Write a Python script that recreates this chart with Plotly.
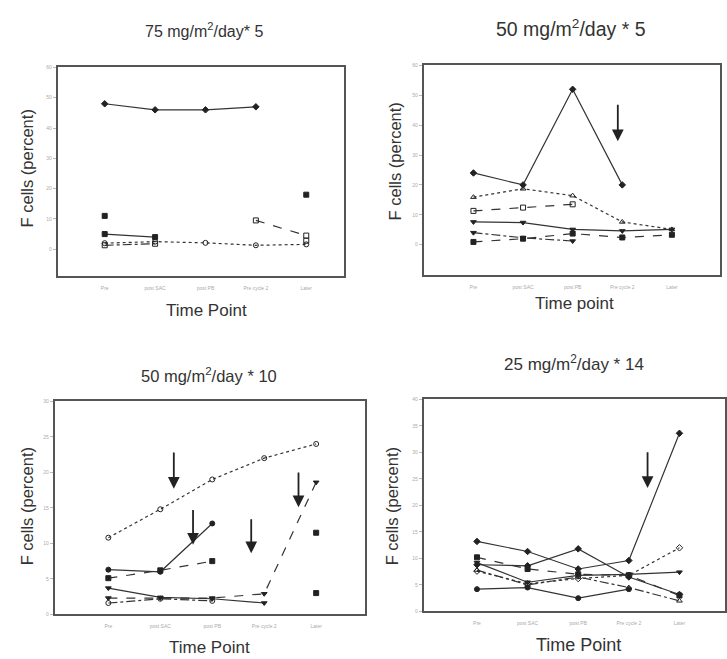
import plotly.graph_objects as go

# ---------------- data ----------------
time_points = ["Pre", "post SAC", "post PB", "Pre cycle 2", "Later"]

panel_titles = [
    "75 mg/m<sup>2</sup>/day* 5",
    "50 mg/m<sup>2</sup>/day * 5",
    "50 mg/m<sup>2</sup>/day * 10",
    "25 mg/m<sup>2</sup>/day * 14",
]
x_titles = ["Time Point", "Time point", "Time Point", "Time Point"]
y_title = "F cells (percent)"

# Panel 1: 75 mg/m2/day * 5
p1_a = [48, 46, 46, 47, None]
p1_b = [11, None, None, None, 18]
p1_c = [None, None, None, 9.5, 4.5]
p1_d = [5, 4, None, None, None]
p1_e = [2.0, 2.5, 2.1, 1.3, 1.6]
p1_f = [1.3, 1.8, None, None, 2.8]

# Panel 2: 50 mg/m2/day * 5
p2_a = [24, 20, 52, 20, None]
p2_b = [15.9, 18.7, 16.4, 7.6, 5.1]
p2_c = [11.3, 12.4, 13.5, None, None]
p2_d = [7.6, 7.4, 5.1, 4.6, 5.1]
p2_e = [0.9, 2.0, 3.7, 2.4, 3.3]
p2_f = [4.0, 2.3, 1.2, None, None]

# Panel 3: 50 mg/m2/day * 10
p3_a = [10.8, 14.8, 19.0, 22.0, 24.0]
p3_b = [6.3, 6.0, 12.8, None, None]
p3_c = [5.1, 6.2, 7.5, None, None]
p3_d = [3.7, 2.4, 2.2, 1.6, None]
p3_e = [2.3, 2.3, 2.3, 2.9, 18.6]
p3_f = [1.6, 2.2, 1.9, None, None]
p3_g = [None, None, None, None, 11.5]
p3_h = [None, None, None, None, 3.0]

# Panel 4: 25 mg/m2/day * 14
p4_a = [13.2, 11.3, 8.0, 9.6, 33.6]
p4_b = [8.8, 8.6, 11.8, 6.5, 3.2]
p4_c = [10.2, 8.0, 7.0, 6.8, 3.0]
p4_d = [7.6, 5.2, 6.2, 6.8, 12.0]
p4_e = [4.2, 4.5, 2.5, 4.2, None]
p4_f = [9.2, 5.5, 6.8, 7.0, 7.4]
p4_g = [7.8, 5.0, 6.5, 4.5, 2.0]

y_ranges = [[-9, 60], [-10, 60], [0, 30], [0, 40]]
y_ticks = [list(range(0, 61, 10)), list(range(0, 61, 10)),
           list(range(0, 31, 5)), list(range(0, 41, 5))]
x_ranges = [[-0.93, 4.75], [-1.0, 4.97], [-1.03, 4.94], [-1.05, 4.9]]

# arrows: (x index, tip value, tail value)
arrows = {
    2: [(2.91, 34.6, 47.3)],
    3: [(1.26, 17.7, 23.0), (1.63, 9.8, 14.9), (2.75, 8.6, 13.6), (3.66, 15.1, 20.2)],
    4: [(3.37, 23.3, 30.3)],
}

# ---------------- styles ----------------
LC = "#333333"
series = {
    1: [(p1_a, "solid", "diamond"), (p1_b, "solid", "square"),
        (p1_c, "dash", "square-open"), (p1_d, "solid", "square"),
        (p1_e, "dot", "circle-open"), (p1_f, "dashdot", "square-open")],
    2: [(p2_a, "solid", "diamond"), (p2_b, "dot", "triangle-up-open"),
        (p2_c, "dash", "square-open"), (p2_d, "solid", "triangle-down"),
        (p2_e, "dash", "square"), (p2_f, "dashdot", "triangle-down")],
    3: [(p3_a, "dot", "circle-open"), (p3_b, "solid", "circle"),
        (p3_c, "dash", "square"), (p3_d, "solid", "triangle-down"),
        (p3_e, "dash", "triangle-down"), (p3_f, "dashdot", "circle-open"),
        (p3_g, "solid", "square"), (p3_h, "solid", "square")],
    4: [(p4_a, "solid", "diamond"), (p4_b, "solid", "diamond"),
        (p4_c, "dash", "square"), (p4_d, "dot", "diamond-open"),
        (p4_e, "solid", "circle"), (p4_f, "solid", "triangle-down"),
        (p4_g, "dashdot", "triangle-up-open")],
}

domains = {
    1: ([58 / 727, 345 / 727], [1 - 276 / 659, 1 - 65 / 659]),
    2: ([425 / 727, 722 / 727], [1 - 274 / 659, 1 - 63 / 659]),
    3: ([55 / 727, 366 / 727], [1 - 617 / 659, 1 - 402 / 659]),
    4: ([425 / 727, 1.0], [1 - 614 / 659, 1 - 400 / 659]),
}

title_pos = {1: (205, 27, 16), 2: (573, 25, 19.5), 3: (210, 375, 16.5), 4: (576, 363, 17)}
xtitle_pos = {1: (207, 310, 17), 2: (576, 303, 17), 3: (210, 650, 17), 4: (580, 648, 18)}
ytitle_pos = {1: (28, 167), 2: (396, 160), 3: (27, 508), 4: (393, 508)}
ytitle_size = 16.5

fig = go.Figure()
annotations = []
layout = {}

for p in range(1, 5):
    xa = "x" if p == 1 else f"x{p}"
    ya = "y" if p == 1 else f"y{p}"
    for vals, dash, sym in series[p]:
        fig.add_trace(go.Scatter(
            x=time_points, y=vals, xaxis=xa, yaxis=ya,
            mode="lines+markers",
            line=dict(color=LC, width=1.2, dash=dash),
            marker=dict(symbol=sym, size=5, color="#222222",
                        line=dict(color="#222222", width=1)),
            connectgaps=False, showlegend=False, hoverinfo="skip",
        ))
    xd, yd = domains[p]
    xkey = "xaxis" if p == 1 else f"xaxis{p}"
    ykey = "yaxis" if p == 1 else f"yaxis{p}"
    layout[xkey] = dict(
        domain=xd, anchor=ya, type="category", categoryorder="array",
        categoryarray=time_points, range=x_ranges[p - 1],
        showgrid=False, zeroline=False, showline=True, mirror=True,
        linecolor="#555555", linewidth=2, ticks="", tickfont=dict(size=5, color="#aaaaaa"),
        ticklabelstandoff=6,
    )
    layout[ykey] = dict(
        domain=yd, anchor=xa, range=y_ranges[p - 1], tickvals=y_ticks[p - 1],
        showgrid=False, zeroline=False, showline=True, mirror=True,
        linecolor="#555555", linewidth=2, ticks="outside", ticklen=3,
        tickcolor="#bbbbbb", tickfont=dict(size=5, color="#aaaaaa"),
    )
    tx, ty, ts = title_pos[p]
    annotations.append(dict(text=panel_titles[p - 1], x=tx / 727, y=1 - ty / 659,
                            xref="paper", yref="paper", showarrow=False,
                            xanchor="center", yanchor="middle",
                            font=dict(size=ts, color="#333333")))
    tx, ty, ts = xtitle_pos[p]
    annotations.append(dict(text=x_titles[p - 1], x=tx / 727, y=1 - ty / 659,
                            xref="paper", yref="paper", showarrow=False,
                            xanchor="center", yanchor="middle",
                            font=dict(size=ts, color="#333333")))
    tx, ty = ytitle_pos[p]
    annotations.append(dict(text=y_title, x=tx / 727, y=1 - ty / 659,
                            xref="paper", yref="paper", showarrow=False, textangle=-90,
                            xanchor="center", yanchor="middle",
                            font=dict(size=ytitle_size, color="#333333")))
    for ax_x, tip, tail in arrows.get(p, []):
        annotations.append(dict(
            x=ax_x, y=tip, ax=ax_x, ay=tail, xref=xa, yref=ya, axref=xa, ayref=ya,
            text="", showarrow=True, arrowhead=2, arrowsize=1.3, arrowwidth=1.8,
            arrowcolor="#222222",
        ))

fig.update_layout(
    width=727, height=659, margin=dict(l=0, r=0, t=0, b=0),
    paper_bgcolor="white", plot_bgcolor="white",
    font=dict(family="Liberation Sans, Arial, sans-serif", color="#333333"),
    annotations=annotations, **layout,
)

fig.write_html("out.html")
